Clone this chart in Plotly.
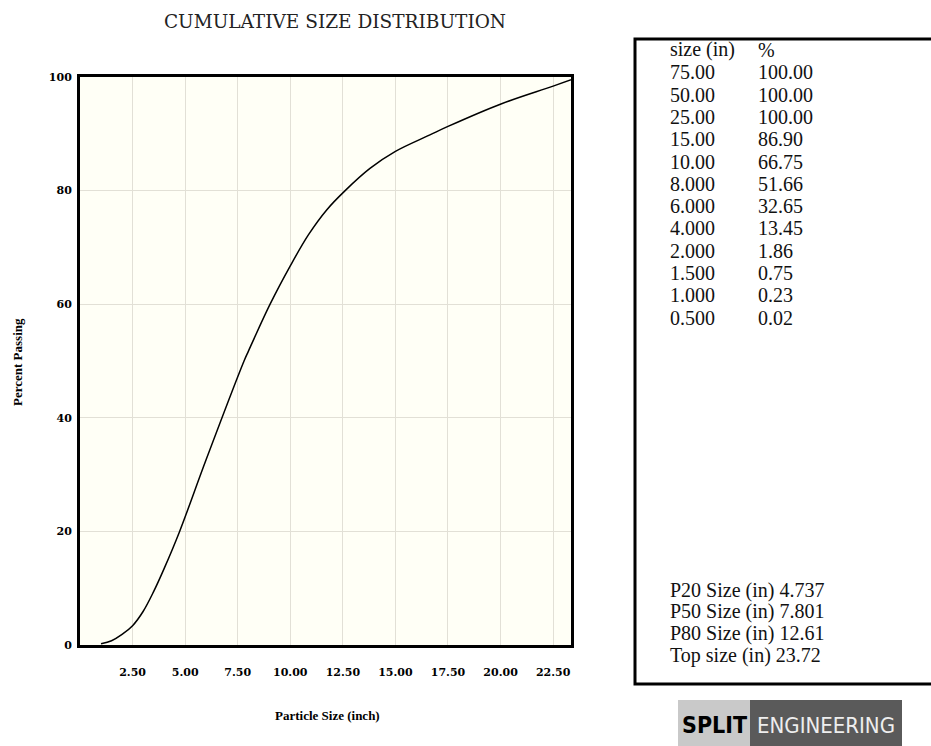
import plotly.graph_objects as go

# ---- data ----
curve_size = [1.0, 1.5, 2.0, 2.5, 3.0, 3.5, 4.0, 4.737, 6.0, 7.801, 8.0, 9.04, 10.0,
              10.86, 11.73, 12.61, 13.79, 15.0, 16.64, 17.5, 20.05, 22.5, 23.72]
curve_pct = [0.23, 0.75, 1.86, 3.4, 5.9, 9.4, 13.45, 20.0, 32.65, 50.0, 51.66, 60.0, 66.75,
             72.2, 76.6, 80.0, 83.9, 86.9, 89.8, 91.3, 95.3, 98.4, 100.0]

table_size = [75.0, 50.0, 25.0, 15.0, 10.0, 8.0, 6.0, 4.0, 2.0, 1.5, 1.0, 0.5]
table_pct = [100.0, 100.0, 100.0, 86.90, 66.75, 51.66, 32.65, 13.45, 1.86, 0.75, 0.23, 0.02]

stat_labels = ["P20 Size (in)", "P50 Size (in)", "P80 Size (in)", "Top size (in)"]
stat_values = [4.737, 7.801, 12.61, 23.72]

x_ticks = [2.5, 5.0, 7.5, 10.0, 12.5, 15.0, 17.5, 20.0, 22.5]
y_ticks = [0, 20, 40, 60, 80, 100]

W, H = 931, 746
L, T = 80, 77
PLOT_R, PLOT_B = 571, 645
R, B = W - PLOT_R, H - PLOT_B
PW, PH = W - L - R, H - T - B


def pxx(x):
    return (x - L) / PW


def pyy(y):
    return (PLOT_B - y) / PH


def fmt_size(v):
    return f"{v:.2f}" if v >= 10 else f"{v:.3f}"


fig = go.Figure()
fig.add_trace(go.Scatter(
    x=curve_size, y=curve_pct, mode="lines",
    line=dict(color="black", width=1.5, shape="spline", smoothing=1.0),
    hoverinfo="x+y", showlegend=False,
))

tick_font = dict(family="DejaVu Serif", size=11, color="black", weight="bold")

fig.update_layout(
    width=W, height=H,
    margin=dict(l=L, r=R, t=T, b=B, autoexpand=False),
    paper_bgcolor="white",
    plot_bgcolor="#FFFFF6",
    title=dict(text="CUMULATIVE SIZE DISTRIBUTION",
               font=dict(family="DejaVu Serif", size=18.5, color="#222"),
               x=pxx(335), xref="paper", xanchor="center",
               y=1 - 22 / H, yref="container", yanchor="middle"),
    xaxis=dict(range=[0, 23.35], tickvals=x_ticks, tickformat=".2f",
               showgrid=True, gridcolor="#E2E0D6", gridwidth=1,
               showline=True, linecolor="black", linewidth=3, mirror=True,
               ticks="", tickfont=tick_font, ticklabelstandoff=15,
               zeroline=False, fixedrange=True),
    yaxis=dict(range=[0, 100], tickvals=y_ticks,
               showgrid=True, gridcolor="#E2E0D6", gridwidth=1,
               showline=True, linecolor="black", linewidth=3, mirror=True,
               ticks="", tickfont=tick_font, ticklabelstandoff=3,
               zeroline=False, fixedrange=True),
)

ann = []
# axis titles
ann.append(dict(text="Particle Size (inch)", x=pxx(327), y=pyy(715),
                xref="paper", yref="paper", showarrow=False,
                xanchor="center", yanchor="middle",
                font=dict(family="Liberation Serif", size=13, color="black", weight="bold")))
ann.append(dict(text="Percent Passing", x=pxx(17), y=pyy(362),
                xref="paper", yref="paper", showarrow=False, textangle=-90,
                xanchor="center", yanchor="middle",
                font=dict(family="Liberation Serif", size=13, color="black", weight="bold")))

# table
tfont = dict(family="Liberation Serif", size=20, color="#111")
col1, col2 = 668, 756
row0, dy = 50, 22.3
ann.append(dict(text="size (in)", x=pxx(col1), y=pyy(row0), xref="paper", yref="paper",
                showarrow=False, xanchor="left", yanchor="middle", font=tfont))
ann.append(dict(text="%", x=pxx(col2), y=pyy(row0), xref="paper", yref="paper",
                showarrow=False, xanchor="left", yanchor="middle", font=tfont))
for i, (s, p) in enumerate(zip(table_size, table_pct)):
    yy = row0 + dy * (i + 1)
    ann.append(dict(text=fmt_size(s), x=pxx(col1), y=pyy(yy), xref="paper", yref="paper",
                    showarrow=False, xanchor="left", yanchor="middle", font=tfont))
    ann.append(dict(text=f"{p:.2f}", x=pxx(col2), y=pyy(yy), xref="paper", yref="paper",
                    showarrow=False, xanchor="left", yanchor="middle", font=tfont))
prow0 = 590
for i, (lab, v) in enumerate(zip(stat_labels, stat_values)):
    yy = prow0 + 21.7 * i
    ann.append(dict(text=f"{lab} {fmt_size(v)}", x=pxx(col1), y=pyy(yy),
                    xref="paper", yref="paper", showarrow=False,
                    xanchor="left", yanchor="middle", font=tfont))

# logo
ann.append(dict(text="SPLIT", x=pxx(714), y=pyy(725), xref="paper", yref="paper",
                showarrow=False, xanchor="center", yanchor="middle",
                font=dict(family="DejaVu Sans Condensed, Liberation Sans", size=23,
                          color="black", weight="bold")))
ann.append(dict(text="ENGINEERING", x=pxx(826), y=pyy(725), xref="paper", yref="paper",
                showarrow=False, xanchor="center", yanchor="middle",
                font=dict(family="DejaVu Sans Condensed, Liberation Sans", size=22,
                          color="#EEEEEE")))
fig.update_layout(annotations=ann)

shapes = [
    dict(type="rect", xref="paper", yref="paper",
         x0=pxx(635), x1=pxx(990), y0=pyy(684), y1=pyy(39),
         line=dict(color="black", width=3), fillcolor="rgba(0,0,0,0)", layer="below"),
    dict(type="rect", xref="paper", yref="paper",
         x0=pxx(678), x1=pxx(750), y0=pyy(760), y1=pyy(700),
         line=dict(width=0), fillcolor="#C9C9C9", layer="below"),
    dict(type="rect", xref="paper", yref="paper",
         x0=pxx(750), x1=pxx(902), y0=pyy(760), y1=pyy(700),
         line=dict(width=0), fillcolor="#5A5A5A", layer="below"),
]
fig.update_layout(shapes=shapes)

fig.write_html(
    "out.html",
    config={"displayModeBar": False},
    post_script="document.body.style.margin='0';document.body.style.overflow='hidden';",
)
